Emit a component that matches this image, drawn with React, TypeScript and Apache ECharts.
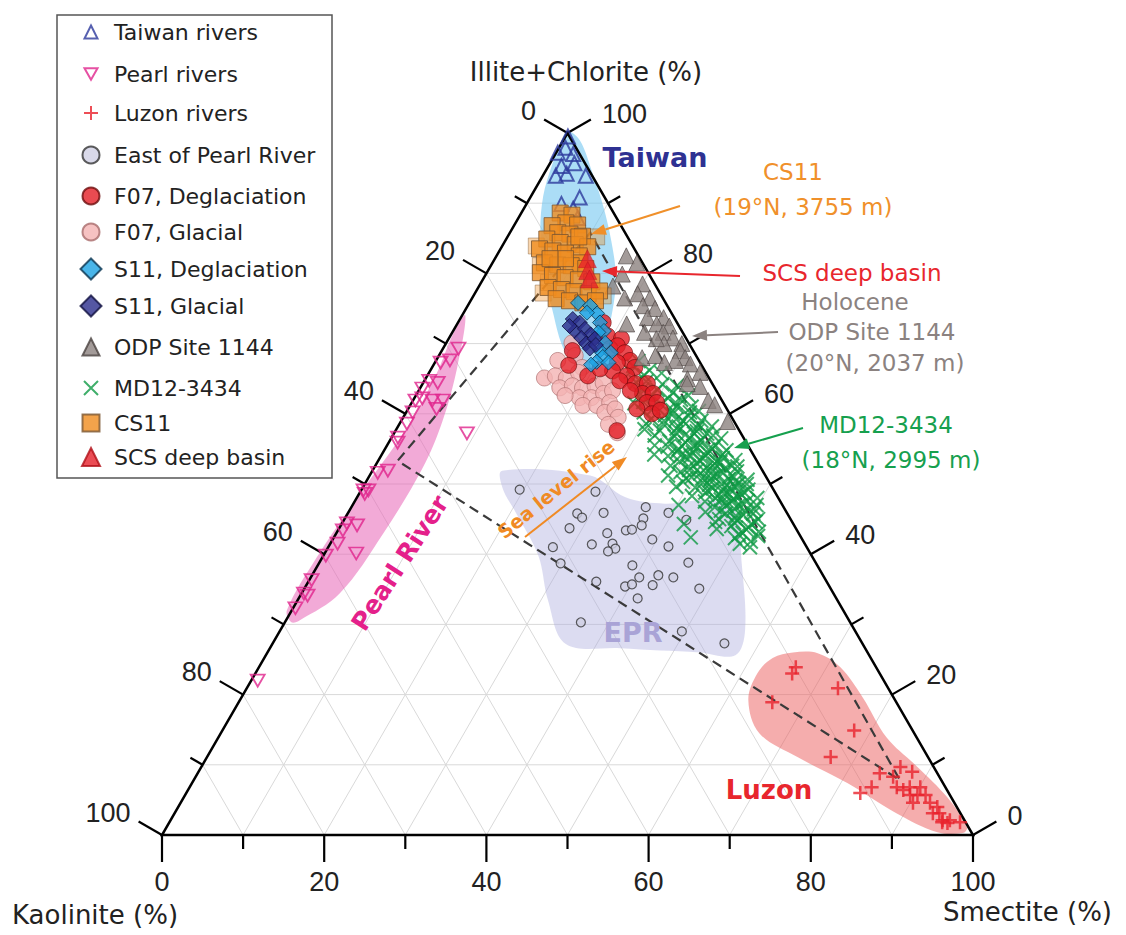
import React, { useEffect, useRef } from "react";
import * as echarts from "echarts";

const FONT = "'Liberation Sans', Arial, Helvetica, sans-serif";
const TFONT = "'DejaVu Sans', Verdana, sans-serif";
const H = Math.sqrt(3) / 2;

// ---------- axis ticks ----------
const tickValues = [0, 10, 20, 30, 40, 50, 60, 70, 80, 90, 100];
const gridSteps = [10, 20, 30, 40, 50, 60, 70, 80, 90];

// ---------- data: [Illite+Chlorite %, Smectite %]  (Kaolinite = 100 - both) ----------
const taiwanRivers = [
  [99.5, 0.3], [97.9, 0.8], [97.2, 0.2], [97.0, 2.2], [95.3, 1.6], [95.7, 3.0], [93.9, 1.6],
  [94.2, 2.8], [93.9, 5.3], [90.8, 6.1], [89.9, 4.3], [89.2, 6.1], [87.9, 7.3],
];
const pearlRivers = [
  [69.3, 1.9], [67.6, 1.7], [67.3, 0.7], [64.4, 1.8], [64.7, 0.6], [63.6, 0.3], [61.9, 2.4],
  [61.9, 3.7], [60.7, 3.5], [62.2, 1.0], [61.9, 0.3], [60.2, 0.8], [58.6, 0.9], [56.6, 0.8],
  [55.9, 1.1], [57.2, 9.0], [51.9, 1.9], [51.6, 0.8], [49.1, 0.9], [49.1, 0.3], [48.6, 0.7],
  [44.1, 2.0], [44.4, 0.6], [43.4, 0.6], [41.5, 0.9], [40.1, 3.9], [39.8, 0.3], [36.3, 0.3],
  [34.4, 0.3], [34.1, 0.9], [32.3, 0.3], [22.0, 0.8],
];
const luzonRivers = [
  [23.9, 66.2], [23.0, 66.2], [18.9, 65.8], [20.9, 72.9], [14.9, 77.9], [11.1, 76.9], [8.8, 84.1],
  [9.7, 86.2], [9.0, 88.0], [8.3, 86.0], [6.8, 84.1], [6.0, 83.1], [6.8, 87.2], [6.4, 88.2],
  [6.8, 88.8], [6.8, 90.1], [5.7, 89.4], [5.7, 90.3], [5.7, 91.3], [4.6, 90.3], [4.6, 92.4],
  [4.0, 93.6], [3.1, 93.5], [3.1, 94.3], [2.1, 95.2], [2.1, 96.1], [1.8, 95.3], [1.7, 96.0],
  [1.8, 97.5],
];
const eastOfPearlRiver = [
  [49.2, 19.5], [48.9, 29.0], [45.8, 28.3], [45.2, 29.2], [45.9, 31.5], [46.7, 36.3], [45.9, 39.5],
  [44.9, 42.2], [45.1, 36.8], [44.1, 37.1], [43.4, 35.5], [43.5, 36.2], [43.7, 28.4], [43.0, 33.4],
  [42.1, 39.4], [41.0, 27.7], [41.4, 32.3], [41.5, 34.8], [40.8, 35.5], [40.4, 34.8], [41.1, 41.9],
  [38.7, 29.8], [38.4, 38.8], [38.8, 45.5], [36.1, 35.5], [35.4, 39.4], [35.7, 40.1], [36.7, 40.5],
  [37.0, 42.7], [35.6, 42.7], [36.7, 44.7], [35.1, 48.7], [33.7, 41.8], [30.3, 36.5], [29.0, 49.6],
  [27.3, 55.7],
];
const f07Deglaciation = [
  [73.0, 17.9], [71.1, 19.4], [70.7, 21.3], [69.3, 20.6], [69.7, 21.3], [68.7, 22.7], [67.6, 23.9],
  [67.3, 22.5], [66.6, 25.0], [66.1, 22.5], [65.4, 24.6], [64.7, 24.1], [64.3, 26.2], [64.3, 27.7],
  [62.9, 27.8], [62.9, 29.1], [61.6, 29.0], [61.6, 30.2], [60.7, 28.2], [60.0, 30.4], [69.0, 16.1],
  [66.9, 16.7], [65.4, 19.8], [66.4, 20.8], [57.6, 27.3], [63.3, 26.1], [60.5, 31.2],
];
const f07Glacial = [
  [70.1, 15.5], [68.3, 16.8], [67.6, 15.0], [66.6, 18.5], [65.1, 14.6], [65.4, 15.8], [65.1, 17.3],
  [65.9, 18.4], [63.7, 17.2], [64.0, 18.6], [63.7, 20.0], [64.0, 21.4], [64.4, 22.2], [62.3, 20.3],
  [62.3, 21.8], [62.9, 23.0], [63.3, 23.9], [61.2, 21.3], [61.2, 23.0], [61.6, 24.4], [60.2, 24.5],
  [60.7, 25.5], [59.5, 26.5], [58.5, 25.8], [57.3, 27.5], [62.6, 18.4],
];
const s11Deglaciation = [
  [75.8, 13.4], [75.4, 15.1], [74.3, 16.5], [74.4, 15.2], [73.0, 17.5], [71.8, 18.6], [70.1, 19.6],
  [69.0, 19.5], [68.7, 21.0], [68.1, 20.3], [67.4, 19.9], [67.0, 19.4], [67.3, 21.4], [71.6, 18.0],
];
const s11Glacial = [
  [73.5, 13.9], [73.0, 15.0], [71.8, 15.0], [72.1, 16.1], [71.3, 17.2], [70.8, 16.3], [70.0, 17.3],
  [70.7, 18.0], [69.3, 18.1], [69.8, 18.6], [72.5, 14.0],
];
const odpSite1144 = [
  [82.5, 16.0], [81.5, 17.8], [79.9, 16.8], [78.5, 20.0], [78.2, 16.5], [76.5, 18.8], [77.1, 20.1],
  [76.5, 21.9], [75.4, 21.6], [75.0, 23.3], [73.7, 25.0], [73.7, 23.0], [72.8, 20.9], [72.8, 24.6],
  [72.5, 26.3], [71.6, 23.7], [71.6, 26.0], [70.8, 27.6], [70.0, 29.1], [70.0, 26.9], [70.7, 25.6],
  [69.0, 29.4], [68.0, 30.5], [67.6, 29.5], [67.1, 31.6], [65.9, 33.4], [68.0, 25.2], [68.3, 26.7],
  [67.3, 28.3], [65.0, 32.3], [63.9, 34.4], [61.9, 36.4], [61.3, 37.5], [58.9, 40.3], [64.3, 32.6],
];
const cs11 = [
  [88.6, 4.8], [88.3, 6.4], [87.2, 6.2], [86.8, 4.7], [86.9, 7.8], [85.8, 5.9], [85.6, 7.5],
  [85.3, 9.2], [84.9, 5.0], [84.4, 6.9], [84.1, 8.9], [83.8, 10.6], [83.5, 4.8], [83.2, 6.6],
  [82.9, 8.3], [82.5, 10.2], [81.5, 10.8], [81.5, 6.4], [81.2, 8.2], [81.1, 9.9], [80.7, 11.9],
  [80.1, 6.6], [79.7, 8.3], [79.4, 10.0], [79.1, 11.8], [78.8, 13.6], [78.0, 8.6], [77.7, 10.4],
  [77.4, 12.1], [77.1, 14.0], [77.5, 15.2], [76.4, 10.4], [76.1, 12.2], [75.8, 14.0], [76.1, 15.4],
  [82.1, 8.7], [82.1, 6.8], [85.2, 8.8],
];
const cs11Faint = [[83.9, 4.2], [81.1, 6.1], [77.2, 8.4], [85.2, 11.0], [76.8, 16.0], [78.7, 8.3]];
const scsDeepBasin = [[82.1, 11.4], [80.4, 12.3], [79.2, 13.1]];

// MD12-3434 : [Kaolinite %, Illite+Chlorite %]
const md12_3434 = [
  [7.5, 67.5], [8.5, 66.8], [6.8, 66.2], [9.2, 66.0], [7.8, 65.5], [5.5, 65.8],
  [9.3, 64.5], [8.0, 64.6], [6.2, 64.2], [4.5, 64.0], [9.0, 63.5], [7.2, 63.4], [5.5, 63.0],
  [9.6, 62.8], [8.6, 62.5], [3.8, 62.6], [6.5, 62.2],
  [11.0, 61.5], [9.8, 61.7], [7.8, 61.4], [5.9, 61.6], [4.2, 61.0], [9.0, 60.8], [6.8, 60.5],
  [3.6, 60.4], [10.5, 60.2], [8.1, 59.8], [5.2, 59.7], [10.0, 59.3], [7.0, 59.2], [4.0, 59.0],
  [11.0, 58.6], [8.9, 58.5], [6.1, 58.6], [3.1, 58.2], [11.6, 57.8], [9.8, 57.6], [7.6, 57.9],
  [5.3, 57.5], [4.2, 57.2], [10.8, 56.9], [8.4, 56.8], [6.6, 56.6], [2.8, 56.5], [9.4, 56.1],
  [5.4, 56.2], [7.5, 55.9],
  [11.5, 55.5], [10.0, 55.3], [8.2, 55.4], [6.4, 55.2], [4.6, 55.0], [3.0, 54.8], [9.2, 54.6],
  [7.3, 54.5], [5.5, 54.4], [12.2, 54.2], [10.6, 54.0], [8.5, 53.8], [6.5, 53.6], [4.0, 53.7],
  [2.6, 53.4], [9.6, 53.2], [7.6, 53.0], [5.4, 52.9],
  [11.0, 52.6], [8.8, 52.5], [6.7, 52.3], [4.5, 52.2], [3.2, 51.8], [10.2, 51.7], [7.9, 51.5],
  [5.8, 51.4], [12.0, 51.2], [9.2, 51.0], [6.9, 50.8], [4.8, 50.7], [2.5, 50.6], [10.6, 50.3],
  [8.2, 50.2], [6.0, 50.0], [3.8, 50.1],
  [11.8, 49.6], [9.5, 49.5], [7.4, 49.4], [5.2, 49.3], [3.1, 49.2], [8.6, 48.8], [6.4, 48.6],
  [4.3, 48.5], [10.5, 48.3], [7.8, 48.0], [5.6, 47.9], [2.6, 48.0], [9.3, 47.5], [6.9, 47.3],
  [4.8, 47.2], [12.8, 47.0],
  [8.5, 46.7], [6.2, 46.5], [3.8, 46.4], [10.0, 46.0], [7.6, 45.8], [5.5, 45.6], [8.8, 45.0],
  [6.6, 44.8], [4.5, 44.6], [13.5, 44.3], [7.8, 44.0], [5.8, 43.8], [9.8, 43.6], [6.9, 43.0],
  [13.6, 42.4], [8.2, 42.3],
  [5.0, 58.0], [7.0, 57.0], [6.0, 55.8], [4.0, 55.5], [7.8, 54.0], [5.0, 53.2], [6.2, 51.8],
  [4.0, 51.0], [7.2, 50.5], [5.5, 49.8], [7.0, 48.5], [5.0, 48.2], [6.0, 47.5], [4.2, 45.8],
  [6.5, 45.5], [7.0, 46.9], [8.0, 50.8], [8.8, 55.0], [7.0, 60.0], [5.0, 62.0],
  [6.0, 61.0], [4.8, 60.2], [6.3, 59.0], [8.6, 59.0], [4.6, 58.4], [7.2, 58.2], [5.8, 57.2],
  [8.0, 57.3], [3.6, 56.9], [6.8, 55.4], [5.2, 54.9], [3.8, 54.2], [6.0, 54.1], [8.8, 54.2],
  [7.0, 53.3], [4.6, 53.1], [3.4, 52.6], [5.8, 52.6], [8.0, 52.0], [5.0, 51.6], [6.5, 51.1],
  [4.1, 50.4], [7.6, 49.9], [4.5, 49.7], [6.2, 49.2], [8.2, 49.0], [3.8, 48.8], [5.8, 48.5],
  [7.2, 47.8], [4.0, 47.6], [5.5, 46.9], [8.0, 46.2], [5.0, 46.2], [6.8, 45.1], [4.0, 45.0],
  [5.2, 44.3], [7.2, 44.5], [6.2, 43.5], [7.5, 42.8], [5.2, 42.6], [6.5, 41.8], [8.0, 41.5],
  [7.0, 41.0], [4.8, 43.2], [9.5, 44.6], [3.2, 47.0], [2.9, 50.0], [2.8, 52.5], [9.0, 52.0],
  [10.0, 50.8],
];

// end-members of the mixing triangle [Illite+Chlorite, Smectite]
const endTaiwan = [85.8, 9.9];
const endPearl = [53.3, 2.4];
const endLuzon = [7.8, 87.1];

// source fields (outline, [Illite+Chlorite, Smectite])
const taiwanField = [
  [100.3, -0.1], [98.9, 2.1], [94.6, 5.7], [89.6, 9.6], [84.6, 13.1], [79.7, 16.1], [74.7, 18.2],
  [69.7, 19.5], [66.9, 19.0], [67.3, 17.1], [69.7, 14.5], [74.7, 10.8], [80.4, 6.8], [86.1, 3.6],
  [91.0, 1.5], [95.3, 0.4], [98.9, -0.2],
];
const pearlField = [
  [74.0, 0.4], [66.6, 3.1], [59.0, 5.1], [52.3, 6.0], [43.0, 5.8], [34.4, 4.7], [30.6, 1.7],
  [30.3, 0.8], [32.0, -0.6], [39.5, -0.7], [48.6, 0.1], [58.0, 1.2], [65.7, 1.0], [71.4, 0.2],
];
const eprField = [
  [51.9, 16.0], [51.2, 27.2], [48.1, 33.1], [47.2, 38.4], [47.7, 43.8], [46.2, 47.6], [39.1, 51.9],
  [29.2, 57.3], [25.6, 57.9], [26.0, 53.3], [26.6, 43.2], [27.2, 36.2], [33.4, 30.9], [39.8, 26.5],
  [46.2, 20.4], [49.4, 17.3],
];
const luzonField = [
  [26.0, 64.8], [25.9, 67.9], [23.9, 71.7], [19.6, 76.6], [13.9, 82.4], [9.7, 88.3], [5.4, 94.1],
  [1.1, 98.7], [0.3, 98.6], [0.4, 95.4], [3.1, 89.0], [7.4, 80.8], [11.1, 72.8], [14.5, 66.4],
  [19.2, 62.7], [23.0, 61.9], [25.2, 62.7],
];

// ---------- helpers ----------
function toXY(p: number[]) {
  const ill = p[0], sme = p[1];
  return [sme + ill / 2, ill * H];
}

const PLUS = "path://M5,0L5,10M0,5L10,5";
const CROSS = "path://M0,0L10,10M10,0L0,10";
const DOWN_TRIANGLE = "path://M0,0L10,0L5,8.66Z";

function scatter(name: string, data: number[][], symbol: string, size: any, itemStyle: any, extra: any = {}) {
  return {
    type: "scatter",
    name,
    data: data.map(toXY),
    symbol,
    symbolSize: size,
    itemStyle,
    clip: false,
    silent: true,
    z: 4,
    ...extra,
  };
}

function arrow(x1: number, y1: number, x2: number, y2: number, color: string, w = 2) {
  const a = Math.atan2(y2 - y1, x2 - x1);
  const L = 15, W = 5.5;
  const bx = x2 - L * Math.cos(a), by = y2 - L * Math.sin(a);
  const px = -Math.sin(a) * W, py = Math.cos(a) * W;
  return {
    type: "group",
    z: 20,
    children: [
      { type: "line", z: 20, shape: { x1, y1, x2: bx, y2: by }, style: { stroke: color, lineWidth: w } },
      { type: "polygon", z: 20, shape: { points: [[x2, y2], [bx + px, by + py], [bx - px, by - py]] }, style: { fill: color } },
    ],
  };
}

function txt(text: string, x: number, y: number, color: string, size: number, opts: any = {}) {
  return {
    type: "text",
    x,
    y,
    z: 20,
    rotation: opts.rotation || 0,
    style: {
      text,
      fill: color,
      fontSize: size,
      fontFamily: TFONT,
      fontWeight: opts.bold ? "bold" : "normal",
      align: opts.align || "center",
      verticalAlign: "middle",
    },
  };
}

const legendEntries: [string, number, number][] = [
  ["Taiwan rivers", 32, 13],
  ["Pearl rivers", 74, 13],
  ["Luzon rivers", 113, 14],
  ["East of Pearl River", 155, 17],
  ["F07, Deglaciation", 196, 17],
  ["F07, Glacial", 232, 17],
  ["S11, Deglaciation", 269, 21],
  ["S11, Glacial", 306, 21],
  ["ODP Site 1144", 347, 17],
  ["MD12-3434", 388, 14],
  ["CS11", 423, 17],
  ["SCS deep basin", 457, 18],
];

function buildOption() {
  const regions = [
    { pts: taiwanField, fill: "rgba(115,198,240,0.6)" },
    { pts: pearlField, fill: "rgba(232,100,182,0.55)" },
    { pts: eprField, fill: "rgba(172,172,222,0.42)" },
    { pts: luzonField, fill: "rgba(235,92,92,0.5)" },
  ];

  const gridRender = (_params: any, api: any) => {
    const P = (i: number, s: number) => api.coord(toXY([i, s]));
    const ch: any[] = [];
    const st = { stroke: "#d9d9d9", lineWidth: 1 };
    for (const v of gridSteps) {
      const segs = [
        [P(v, 0), P(v, 100 - v)],
        [P(0, v), P(100 - v, v)],
        [P(0, 100 - v), P(100 - v, 0)],
      ];
      for (const [a, b] of segs) {
        ch.push({ type: "line", shape: { x1: a[0], y1: a[1], x2: b[0], y2: b[1] }, style: st });
      }
    }
    return { type: "group", children: ch };
  };

  const frameRender = (_params: any, api: any) => {
    const P = (i: number, s: number) => api.coord(toXY([i, s]));
    const ch: any[] = [];
    const seg = (a: number[], b: number[]) =>
      ch.push({ type: "line", shape: { x1: a[0], y1: a[1], x2: b[0], y2: b[1] }, style: { stroke: "#000", lineWidth: 2.2 } });
    const apex = P(100, 0), bl = P(0, 0), br = P(0, 100);
    ch.push({
      type: "polygon",
      shape: { points: [bl, br, apex] },
      style: { fill: "none", stroke: "#000", lineWidth: 2.5, lineJoin: "miter" },
    });
    const lab = (t: string, x: number, y: number, align: string) =>
      ch.push({
        type: "text",
        x,
        y,
        style: { text: t, fill: "#222", fontSize: 27, fontFamily: FONT, align, verticalAlign: "middle" },
      });
    for (const v of tickValues) {
      const major = v % 20 === 0;
      const len = major ? 27 : 14;
      const b = P(0, v);
      seg(b, [b[0], b[1] + len]);
      const l = P(100 - v, 0);
      const le = [l[0] - len * 0.866, l[1] - len * 0.5];
      seg(l, le);
      const r = P(v, 100 - v);
      const re = [r[0] + len * 0.866, r[1] - len * 0.5];
      seg(r, re);
      if (major) {
        lab(String(v), b[0], b[1] + 47, "center");
        lab(String(v), le[0] - 8, le[1] - 9, "right");
        lab(String(v), re[0] + 11, re[1] - 6, "left");
      }
    }
    return { type: "group", children: ch };
  };

  const regionRender = (params: any, api: any) => {
    const r = regions[params.dataIndex];
    return {
      type: "polygon",
      shape: { points: r.pts.map((p) => api.coord(toXY(p))), smooth: 0.35 },
      style: { fill: r.fill },
    };
  };

  const mixRender = (_params: any, api: any) => ({
    type: "polygon",
    shape: { points: [endTaiwan, endPearl, endLuzon].map((p) => api.coord(toXY(p))) },
    style: { fill: "none", stroke: "#3a3a3a", lineWidth: 2.2, lineDash: [10, 6] },
  });

  const series: any[] = [
    { type: "custom", name: "grid", coordinateSystem: "cartesian2d", data: [[0, 0]], renderItem: gridRender, z: 1, silent: true, clip: false },
    { type: "custom", name: "fields", coordinateSystem: "cartesian2d", data: regions.map((_, i) => [i, 0]), renderItem: regionRender, z: 2, silent: true, clip: false },
    { type: "custom", name: "frame", coordinateSystem: "cartesian2d", data: [[0, 0]], renderItem: frameRender, z: 3, silent: true, clip: false },
    { type: "custom", name: "mixing", coordinateSystem: "cartesian2d", data: [[0, 0]], renderItem: mixRender, z: 3, silent: true, clip: false },
    scatter("East of Pearl River", eastOfPearlRiver, "circle", 9, { color: "#cfcfe3", borderColor: "#333", borderWidth: 1.2 }),
    scatter("Taiwan rivers", taiwanRivers, "triangle", 14, { color: "rgba(0,0,0,0)", borderColor: "#2d3a9c", borderWidth: 2 }),
    scatter("Pearl rivers", pearlRivers, DOWN_TRIANGLE, [14, 12], { color: "rgba(0,0,0,0)", borderColor: "#e0248c", borderWidth: 1.8 }),
    scatter("Luzon rivers", luzonRivers, PLUS, 14, { color: "rgba(0,0,0,0)", borderColor: "#e8222c", borderWidth: 2.5 }),
    scatter("MD12-3434", md12_3434.map(([k, i]) => [i, 100 - k - i]), CROSS, 14, { color: "rgba(0,0,0,0)", borderColor: "#0f9a45", borderWidth: 2 }),
    scatter("F07, Glacial", f07Glacial, "circle", 16, { color: "#f4b3b3", borderColor: "#a86a6a", borderWidth: 0.8 }),
    scatter("F07, Deglaciation", f07Deglaciation, "circle", 16, { color: "#e31e26", borderColor: "#6a0a0a", borderWidth: 0.8 }),
    scatter("ODP Site 1144", odpSite1144, "triangle", 16, { color: "#8c827f", borderColor: "#4a4240", borderWidth: 0.8 }),
    scatter("CS11 faint", cs11Faint, "rect", 16, { color: "rgba(240,140,30,0.45)", borderColor: "rgba(120,80,40,0.5)", borderWidth: 1 }),
    scatter("CS11", cs11, "rect", 16, { color: "#f08c1e", borderColor: "#7a5530", borderWidth: 1 }),
    scatter("S11, Deglaciation", s11Deglaciation, "diamond", 15, { color: "#1ca3e4", borderColor: "#0a3550", borderWidth: 1 }),
    scatter("S11, Glacial", s11Glacial, "diamond", 15, { color: "#2b2d8c", borderColor: "#101040", borderWidth: 1 }),
    scatter("SCS deep basin", scsDeepBasin, "triangle", 18, { color: "#e6212a", borderColor: "#b01018", borderWidth: 0.5 }),
  ];

  const legend = legendEntries.map(([name, yc, w]) => ({
    data: [name],
    left: 90 - w / 2,
    top: yc - 13,
    itemWidth: w,
    itemHeight: w,
    padding: 0,
    selectedMode: false,
    textStyle: { fontSize: 22, color: "#222", fontFamily: TFONT, lineHeight: 26, padding: [0, 0, 0, 18 - w / 2] },
  }));

  const graphic: any[] = [
    { type: "rect", shape: { x: 57, y: 15, width: 275, height: 463 }, style: { fill: "none", stroke: "#555", lineWidth: 1.5 }, z: 0 },
    txt("Illite+Chlorite (%)", 586, 72, "#222", 26),
    txt("Kaolinite (%)", 12, 915, "#222", 26, { align: "left" }),
    txt("Smectite (%)", 1112, 912, "#222", 26, { align: "right" }),
    txt("Taiwan", 655, 157, "#2e3192", 27, { bold: true }),
    txt("CS11", 793, 172, "#f0902a", 23),
    txt("(19°N, 3755 m)", 803, 207, "#f0902a", 23),
    txt("SCS deep basin", 852, 273, "#e8262d", 23),
    txt("Holocene", 855, 302, "#8b8280", 23),
    txt("ODP Site 1144", 872, 332, "#8b8280", 23),
    txt("(20°N, 2037 m)", 875, 363, "#8b8280", 23),
    txt("MD12-3434", 886, 425, "#16a04e", 23),
    txt("(18°N, 2995 m)", 891, 460, "#16a04e", 23),
    txt("EPR", 633, 632, "#a9a3d6", 27, { bold: true }),
    txt("Luzon", 769, 790, "#e8262d", 26, { bold: true }),
    txt("Pearl River", 400, 563, "#e4208a", 25, { bold: true, rotation: (57 * Math.PI) / 180 }),
    txt("Sea level rise", 556, 489, "#f08a24", 19, { bold: true, rotation: (39 * Math.PI) / 180 }),
    arrow(680, 206, 591, 234, "#f0902a", 2),
    arrow(740, 276, 602, 271, "#e8262d", 2),
    arrow(778, 332, 692, 336, "#8b8280", 2),
    arrow(803, 428, 734, 448, "#16a04e", 2),
    arrow(525, 537, 627, 457, "#f08a24", 2),
  ];

  return {
    animation: false,
    backgroundColor: "#fff",
    textStyle: { fontFamily: FONT },
    grid: { left: 162, top: 133, width: 811, height: 702 },
    xAxis: { type: "value", min: 0, max: 100, show: false },
    yAxis: { type: "value", min: 0, max: 100 * H, show: false },
    legend,
    graphic,
    series,
  };
}

export default function App() {
  const ref = useRef<HTMLDivElement>(null);
  useEffect(() => {
    const chart = echarts.init(ref.current as HTMLDivElement, null, { renderer: "svg" });
    chart.setOption(buildOption() as any);
    return () => chart.dispose();
  }, []);
  return (
    <div
      ref={ref}
      style={{ position: "fixed", left: 0, top: 0, width: 1126, height: 935, background: "#fff" }}
    />
  );
}
